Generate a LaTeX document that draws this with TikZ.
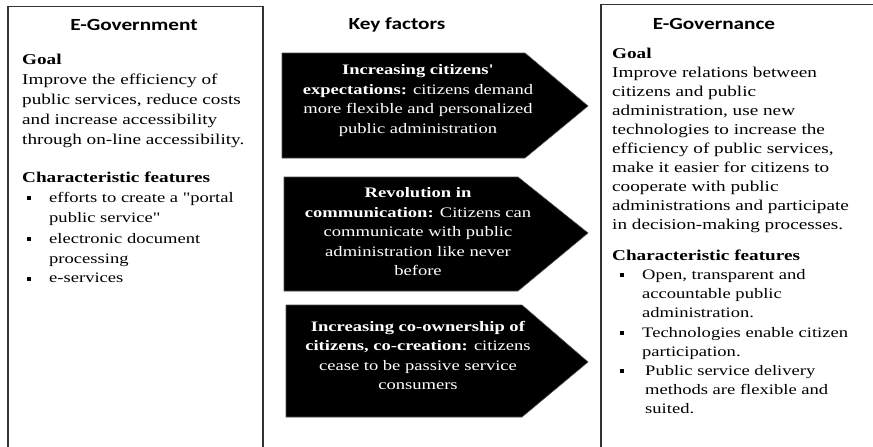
\documentclass[tikz,border=0pt]{standalone}
\usepackage{fontspec}
\setmainfont{Liberation Serif}
\newfontfamily\bodyfont{Liberation Serif}[FakeStretch=1.28]
\newfontfamily\titlefont{Carlito}[FakeStretch=1.25]
\tikzset{
  panel/.style={draw=black!80, line width=1.2pt},
  keyarrow/.style={fill=black, draw=black!70, line width=0.6pt},
  heading/.style={font=\titlefont\bfseries\fontsize{17}{20}\selectfont, inner sep=0pt},
  bodytext/.style={align=left, anchor=north west, inner sep=0pt, font=\bodyfont\fontsize{15}{20}\selectfont},
  bodytextr/.style={align=left, anchor=north west, inner sep=0pt, font=\bodyfont\fontsize{15}{19}\selectfont},
  bullettext/.style={align=left, anchor=north west, inner sep=0pt, font=\bodyfont\fontsize{14.5}{20.5}\selectfont},
  bullettextr/.style={align=left, anchor=north west, inner sep=0pt, font=\bodyfont\fontsize{14.5}{19.2}\selectfont},
  dot/.style={fill=black, inner sep=0pt, minimum size=4pt},
  arrowtext/.style={align=center, text=white, inner sep=0pt, font=\bodyfont\fontsize{14.5}{19.5}\selectfont}
}
\begin{document}
\begin{tikzpicture}[x=1pt,y=-1pt]
\useasboundingbox (0,0) rectangle (873,447);
\begin{scope}
\clip (0,0) rectangle (873,447);
% panels
\draw[panel] (8,460) -- (8,6.5) -- (263,6.5) -- (263,460);
\draw[panel] (601,460) -- (601,4.5) -- (880,4.5);
% key factor arrows
\filldraw[keyarrow] (282,53) -- (525,53) -- (588,106) -- (525,158) -- (282,158) -- cycle;
\filldraw[keyarrow] (284,177) -- (518,177) -- (588,233) -- (518,291) -- (284,291) -- cycle;
\filldraw[keyarrow] (286,305) -- (522,305) -- (588,362) -- (522,417) -- (286,417) -- cycle;
\end{scope}

% headings
\node[heading] (hgov) at (134,25) {E-Government};
\node[heading] (hkey) at (397,25) {Key factors};
\node[heading] (hgovn) at (714,24) {E-Governance};

% left panel
\node[bodytext] (lgoal) at (22,54) {\textbf{Goal}\\Improve the efficiency of\\public services, reduce costs\\and increase accessibility\\through on-line accessibility.};
\node[bodytext] (lchar) at (22,172) {\textbf{Characteristic features}};
\node[dot] (lb1) at (29,198) {};
\node[dot] (lb2) at (29,239) {};
\node[dot] (lb3) at (29,279) {};
\node[bullettext] (lt1) at (49,192) {efforts to create a "portal\\public service"};
\node[bullettext] (lt2) at (49,233) {electronic document\\processing};
\node[bullettext] (lt3) at (49,273) {e-services};

% arrow texts
\node[arrowtext] (k1) at (418,100.5) {\textbf{Increasing citizens'}\\\textbf{expectations:} citizens demand\\more flexible and personalized\\public administration};
\node[arrowtext] (k2) at (418,232) {\textbf{Revolution in}\\\textbf{communication:} Citizens can\\communicate with public\\administration like never\\before};
\node[arrowtext] (k3) at (418,355.5) {\textbf{Increasing co-ownership of}\\\textbf{citizens, co-creation:} citizens\\cease to be passive service\\consumers};

% right panel
\node[bodytextr] (rgoal) at (612,48) {\textbf{Goal}\\Improve relations between\\citizens and public\\administration, use new\\technologies to increase the\\efficiency of public services,\\make it easier for citizens to\\cooperate with public\\administrations and participate\\in decision-making processes.};
\node[bodytextr] (rchar) at (612,250) {\textbf{Characteristic features}};
\node[dot] (rb1) at (622,275) {};
\node[dot] (rb2) at (622,333) {};
\node[dot] (rb3) at (622,371) {};
\node[bullettextr] (rt1) at (642,269) {Open, transparent and\\accountable public\\administration.};
\node[bullettextr] (rt2) at (642,327) {Technologies enable citizen\\participation.};
\node[bullettextr] (rt3) at (645,365) {Public service delivery\\methods are flexible and\\suited.};
\end{tikzpicture}
\end{document}
